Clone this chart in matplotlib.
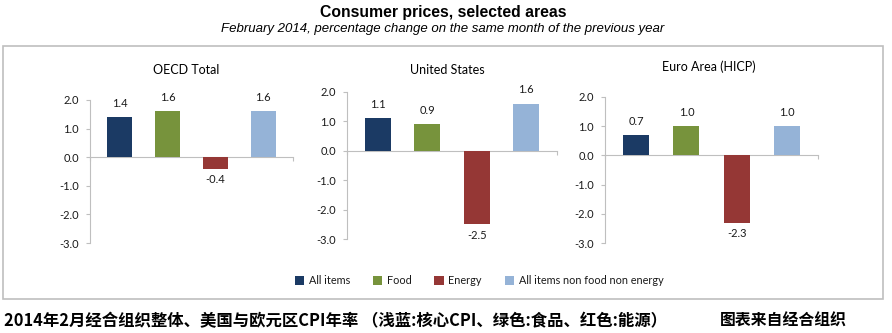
import matplotlib
matplotlib.use("Agg")
import matplotlib.pyplot as plt
from matplotlib.patches import Rectangle, Patch

# February 2014, year-on-year % change
categories = ["All items", "Food", "Energy", "All items non food non energy"]
areas = ["OECD Total", "United States", "Euro Area (HICP)"]
oecd = [1.4, 1.6, -0.4, 1.6]
united_states = [1.1, 0.9, -2.5, 1.6]
euro_area = [0.7, 1.0, -2.3, 1.0]
yticks = [2.0, 1.0, 0.0, -1.0, -2.0, -3.0]

colors = ["#1B3A64", "#77933C", "#953735", "#95B3D7"]
grey = "#BFBFBF"
txt = "#1a1a1a"
font = "Lato"

fig = plt.figure(figsize=(8.92, 3.33), dpi=100)
W, H = 892.0, 333.0

def px_box(x0, x1, ytop, ybot):
    return [x0 / W, 1 - ybot / H, (x1 - x0) / W, (ybot - ytop) / H]

# panel boxes in pixels: y-axis x, axis end x, y of 2.0, y of -3.0
boxes = [px_box(90, 293, 100, 243),
         px_box(347, 557, 92, 239),
         px_box(605, 818, 97, 243)]
title_pos = [(186, 70), (447, 70), (709, 67)]
series = [oecd, united_states, euro_area]

xs = list(range(len(categories)))
xlo, xhi = -0.62, 3.62

for box, vals, name, (tx, ty) in zip(boxes, series, areas, title_pos):
    ax = fig.add_axes(box)
    bars = ax.bar(xs, vals, width=0.52, color=colors, zorder=3)
    ax.set_xlim(xlo, xhi)
    ax.set_ylim(-3, 2)
    for s in ["top", "right"]:
        ax.spines[s].set_visible(False)
    ax.spines["left"].set_color(grey)
    ax.spines["bottom"].set_color(grey)
    ax.spines["bottom"].set_position(("data", 0))
    ax.spines["bottom"].set_zorder(2)
    ax.set_yticks(yticks)
    ax.set_yticklabels([f"{v:.1f}" for v in yticks], fontfamily=font,
                       fontsize=8, color=txt)
    ax.tick_params(axis="y", length=3, color=grey, pad=5, width=0.8)
    ax.set_xticks([xlo, xhi])
    ax.set_xticklabels([])
    ax.tick_params(axis="x", length=3, color=grey, direction="out", width=0.8)
    ax.patch.set_visible(False)
    for b, v in zip(bars, vals):
        off = 10 if v >= 0 else -8
        ax.annotate(f"{v:.1f}", (b.get_x() + b.get_width() / 2, v),
                    xytext=(0, off), textcoords="offset points",
                    ha="center", va="center", fontfamily=font,
                    fontsize=8, color=txt)
    fig.text(tx / W, 1 - ty / H, name, ha="center", va="center",
             fontfamily=font, fontsize=9, color="#000000")

# chart frame
fig.patches.append(Rectangle((3 / W, 1 - 299 / H), 880 / W, 253 / H,
                             transform=fig.transFigure, fill=False,
                             edgecolor=grey, linewidth=1.2))

fig.text(443 / W, 1 - 12 / H, "Consumer prices, selected areas",
         ha="center", va="center", fontfamily="Liberation Sans",
         fontweight="bold", fontsize=11.3)
fig.text(443 / W, 1 - 29 / H,
         "February 2014, percentage change on the same month of the previous year",
         ha="center", va="center", fontfamily="Liberation Sans",
         fontstyle="italic", fontsize=9.5)

handles = [Patch(facecolor=c, edgecolor="none") for c in colors]
leg = fig.legend(handles, categories, loc="center", ncol=4,
                 bbox_to_anchor=(479 / W, 1 - 281 / H), frameon=False,
                 prop={"family": font, "size": 7.8}, handlelength=0.9,
                 handleheight=0.9, handletextpad=0.4, columnspacing=2.1)
for t in leg.get_texts():
    t.set_color(txt)

cjk = ["Noto Sans CJK SC", "DejaVu Sans"]
fig.text(4 / W, 1 - 321 / H,
         "2014年2月经合组织整体、美国与欧元区CPI年率 （浅蓝:核心CPI、绿色:食品、红色:能源）",
         ha="left", va="center", family=cjk, fontweight="bold", fontsize=11.8)
fig.text(720 / W, 1 - 321 / H, "图表来自经合组织", ha="left", va="center",
         family=cjk, fontweight="bold", fontsize=11.4)

fig.savefig("out.png", dpi=100)
